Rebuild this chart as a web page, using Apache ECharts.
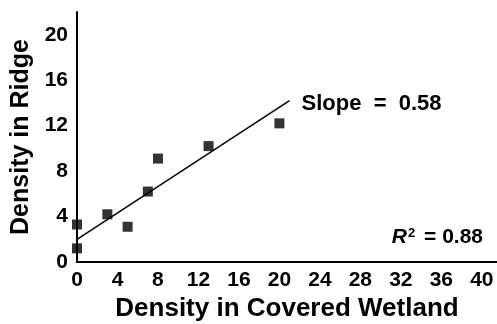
<!DOCTYPE html>
<html>
<head>
<meta charset="utf-8">
<script src="https://cdn.jsdelivr.net/npm/echarts@6/dist/echarts.min.js"></script>
<style>
  html, body {margin: 0; padding: 0; background: #fff;}
  #chart {width: 497px; height: 324px;}
</style>
</head>
<body>
<div id="chart"></div>
<script>
  const points = [[0, 1.2], [0, 3.3], [3, 4.2], [5, 3.1], [7, 6.2], [8, 9.1], [13, 10.2], [20, 12.2]];
  const fitLine = [[0, 2.0], [21, 14.2]];
  const slopeText = 'Slope  =  0.58';
  const r2Text = '0.88';

  const font = '"Liberation Sans", Arial, sans-serif';
  const chart = echarts.init(document.getElementById('chart'));

  chart.setOption({
    animation: false,
    grid: {left: 77, right: 0, top: 12, bottom: 62, outerBoundsMode: 'none'},
    xAxis: {
      type: 'value',
      min: 0, max: 41.5, interval: 4,
      name: 'Density in Covered Wetland',
      nameLocation: 'middle',
      nameGap: 29,
      nameTextStyle: {fontFamily: font, fontWeight: 'bold', fontSize: 26, color: '#000'},
      splitLine: {show: false},
      axisTick: {show: false},
      axisLine: {lineStyle: {color: '#000', width: 2}},
      axisLabel: {
        margin: 8, color: '#000', fontFamily: font, fontWeight: 'bold', fontSize: 21,
        formatter: v => (v % 4 === 0 ? String(v) : '')
      }
    },
    yAxis: {
      type: 'value',
      min: 0, max: 22, interval: 4,
      name: 'Density in Ridge',
      nameLocation: 'middle',
      nameGap: 42,
      nameTextStyle: {fontFamily: font, fontWeight: 'bold', fontSize: 25, color: '#000'},
      splitLine: {show: false},
      axisTick: {show: false},
      axisLine: {show: true, lineStyle: {color: '#000', width: 2}},
      axisLabel: {
        margin: 9, color: '#000', fontFamily: font, fontWeight: 'bold', fontSize: 21,
        formatter: v => (v % 4 === 0 ? String(v) : '')
      }
    },
    series: [
      {
        type: 'line',
        data: fitLine,
        symbol: 'none',
        lineStyle: {color: '#000', width: 1.5},
        endLabel: {
          show: true,
          formatter: slopeText,
          distance: 12,
          offset: [0, 3],
          color: '#000', fontFamily: font, fontWeight: 'bold', fontSize: 22
        },
        z: 1
      },
      {
        type: 'scatter',
        data: points,
        symbol: 'rect',
        symbolSize: 10,
        itemStyle: {color: '#000'},
        z: 2
      }
    ],
    graphic: [{
      type: 'text',
      right: 14,
      top: 227,
      style: {
        text: '{r|R}{s|2}{n| = ' + r2Text + '}',
        fill: '#000',
        rich: {
          r: {fontFamily: font, fontWeight: 'bold', fontStyle: 'italic', fontSize: 21, fill: '#000'},
          s: {fontFamily: font, fontWeight: 'bold', fontSize: 13, fill: '#000', verticalAlign: 'top', padding: [0, 3, 8, 1]},
          n: {fontFamily: font, fontWeight: 'bold', fontSize: 21, fill: '#000'}
        }
      }
    }]
  });
</script>
</body>
</html>
